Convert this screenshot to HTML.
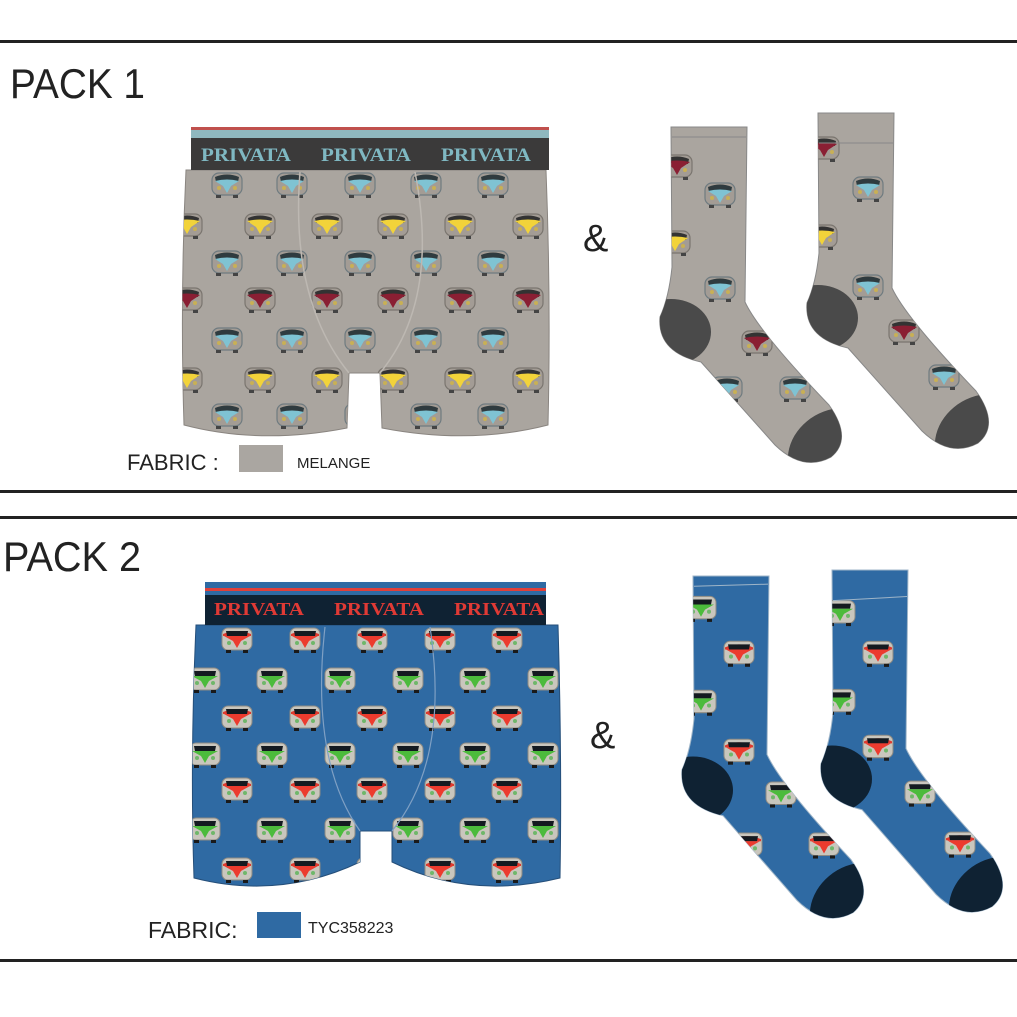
<!DOCTYPE html>
<html><head><meta charset="utf-8"><style>
html,body{margin:0;padding:0;background:#fff;}
svg{display:block;}
text{font-family:"Liberation Sans",sans-serif;}
.serif text{font-family:"Liberation Serif",serif;font-weight:bold;}
</style></head><body>
<svg width="1017" height="1017" viewBox="0 0 1017 1017" xmlns="http://www.w3.org/2000/svg">
<defs>
<symbol id="v1b" viewBox="0 0 32 28"><rect x="1" y="2" width="30" height="22" rx="7" fill="#a39c95" stroke="#6f7b80" stroke-width="1.2"/><path d="M4 6 Q16 1 28 6 L27 11 Q16 8 5 11Z" fill="#2f3b3f"/><path d="M4 10 Q16 7 28 10 L20 15 L16 22 L12 15Z" fill="#7fc3d3"/><circle cx="8" cy="17" r="2" fill="#c8b055"/><circle cx="24" cy="17" r="2" fill="#c8b055"/><rect x="5" y="24" width="5" height="3" fill="#444"/><rect x="22" y="24" width="5" height="3" fill="#444"/></symbol>
<symbol id="v1y" viewBox="0 0 32 28"><rect x="1" y="2" width="30" height="22" rx="7" fill="#a39c95" stroke="#7a756f" stroke-width="1.2"/><path d="M4 6 Q16 1 28 6 L27 11 Q16 8 5 11Z" fill="#333"/><path d="M3 9 Q16 6 29 9 L20 15 L16 22 L12 15Z" fill="#f2d33a"/><circle cx="8" cy="17" r="2" fill="#c8b055"/><circle cx="24" cy="17" r="2" fill="#c8b055"/><rect x="5" y="24" width="5" height="3" fill="#444"/><rect x="22" y="24" width="5" height="3" fill="#444"/></symbol>
<symbol id="v1m" viewBox="0 0 32 28"><rect x="1" y="2" width="30" height="22" rx="7" fill="#a39c95" stroke="#7a756f" stroke-width="1.2"/><path d="M4 6 Q16 1 28 6 L27 11 Q16 8 5 11Z" fill="#333"/><path d="M3 9 Q16 6 29 9 L20 15 L16 22 L12 15Z" fill="#8a1f33"/><circle cx="8" cy="17" r="2" fill="#c8b055"/><circle cx="24" cy="17" r="2" fill="#c8b055"/><rect x="5" y="24" width="5" height="3" fill="#444"/><rect x="22" y="24" width="5" height="3" fill="#444"/></symbol>
<symbol id="v2r" viewBox="0 0 32 28"><rect x="1" y="2" width="30" height="22" rx="6" fill="#c9c6bd" stroke="#8d8a83" stroke-width="1"/><path d="M2 8 Q16 2 30 8 L30 10 L2 10Z" fill="#e03a2e"/><path d="M5 5 L27 5 L26 10 L6 10Z" fill="#141a20"/><path d="M3 10 L29 10 L20 15 L16 22 L12 15Z" fill="#ec3b2e"/><circle cx="8" cy="17" r="2" fill="#6fb76a"/><circle cx="24" cy="17" r="2" fill="#6fb76a"/><rect x="5" y="24" width="5" height="3" fill="#1a1a1a"/><rect x="22" y="24" width="5" height="3" fill="#1a1a1a"/></symbol>
<symbol id="v2g" viewBox="0 0 32 28"><rect x="1" y="2" width="30" height="22" rx="6" fill="#c9c6bd" stroke="#8d8a83" stroke-width="1"/><path d="M5 5 L27 5 L26 10 L6 10Z" fill="#141a20"/><path d="M3 10 L29 10 L20 15 L16 22 L12 15Z" fill="#4cbb3c"/><circle cx="8" cy="17" r="2" fill="#6fb76a"/><circle cx="24" cy="17" r="2" fill="#6fb76a"/><rect x="5" y="24" width="5" height="3" fill="#1a1a1a"/><rect x="22" y="24" width="5" height="3" fill="#1a1a1a"/></symbol>
<path id="sock" d="M0 0 L76 0 L74 175 Q88 205 158 278 Q182 312 160 330 Q132 345 104 318 L30 235 Q-14 225 -11 190 Q-2 170 1 140 Z"/>
<clipPath id="sockclip"><use href="#sock"/></clipPath>
<clipPath id="b1"><path d="M186 170 L546 170 Q551 300 548 425 Q470 445 382 428 L380 373 L349 373 L347 428 Q260 445 184 425 Q180 300 186 170Z"/></clipPath>
<clipPath id="b2"><path d="M196 625 L558 625 Q562 760 560 878 Q470 900 392 862 L392 831 L360 831 L360 862 Q280 900 194 878 Q190 760 196 625Z"/></clipPath>
</defs>

<rect x="0" y="40" width="1017" height="3" fill="#222"/>
<rect x="0" y="490" width="1017" height="3" fill="#222"/>
<rect x="0" y="516" width="1017" height="3" fill="#222"/>
<rect x="0" y="959" width="1017" height="3" fill="#222"/>

<text x="10" y="98" font-size="42" fill="#222" textLength="135" lengthAdjust="spacingAndGlyphs">PACK 1</text>
<text x="3" y="571" font-size="42" fill="#222" textLength="138" lengthAdjust="spacingAndGlyphs">PACK 2</text>
<text x="583" y="251" font-size="38" fill="#222">&amp;</text>
<text x="590" y="748" font-size="38" fill="#222">&amp;</text>

<path d="M186 170 L546 170 Q551 300 548 425 Q470 445 382 428 L380 373 L349 373 L347 428 Q260 445 184 425 Q180 300 186 170Z" fill="#aaa59f" stroke="#8a8580"/>
<g clip-path="url(#b1)">
<g id="r1b">
<use href="#v1b" x="211" y="171" width="32" height="28"/><use href="#v1b" x="276" y="171" width="32" height="28"/><use href="#v1b" x="344" y="171" width="32" height="28"/><use href="#v1b" x="410" y="171" width="32" height="28"/><use href="#v1b" x="477" y="171" width="32" height="28"/>
</g>
<use href="#r1b" y="78"/><use href="#r1b" y="155"/><use href="#r1b" y="231"/>
<g id="r1y">
<use href="#v1y" x="171" y="212" width="32" height="28"/><use href="#v1y" x="244" y="212" width="32" height="28"/><use href="#v1y" x="311" y="212" width="32" height="28"/><use href="#v1y" x="377" y="212" width="32" height="28"/><use href="#v1y" x="444" y="212" width="32" height="28"/><use href="#v1y" x="512" y="212" width="32" height="28"/>
</g>
<use href="#r1y" y="154"/>
<use href="#v1m" x="171" y="286" width="32" height="28"/><use href="#v1m" x="244" y="286" width="32" height="28"/><use href="#v1m" x="311" y="286" width="32" height="28"/><use href="#v1m" x="377" y="286" width="32" height="28"/><use href="#v1m" x="444" y="286" width="32" height="28"/><use href="#v1m" x="512" y="286" width="32" height="28"/>
<path d="M300 172 Q290 300 349 373 M415 172 Q440 300 380 373" fill="none" stroke="#bdb8b2" stroke-width="1.5"/>
</g>
<rect x="191" y="127" width="358" height="3" fill="#c0504d"/>
<rect x="191" y="130" width="358" height="8" fill="#8fb8bf"/>
<rect x="191" y="138" width="358" height="32" fill="#3b3a3a"/>
<g class="serif" style="font-family:'Liberation Serif',serif;font-weight:bold" font-size="19" fill="#7fb8c2">
<text x="201" y="161" textLength="90" lengthAdjust="spacingAndGlyphs">PRIVATA</text><text x="321" y="161" textLength="90" lengthAdjust="spacingAndGlyphs">PRIVATA</text><text x="441" y="161" textLength="90" lengthAdjust="spacingAndGlyphs">PRIVATA</text>
</g>
<text x="127" y="470" font-size="22" fill="#222">FABRIC :</text>
<rect x="239" y="445" width="44" height="27" fill="#aaa6a1"/>
<text x="297" y="468" font-size="15" fill="#222">MELANGE</text>

<g transform="translate(671,127)">
<use href="#sock" fill="#aaa59f" stroke="#888"/>
<g clip-path="url(#sockclip)">
<ellipse cx="0" cy="205" rx="40" ry="33" fill="#4a4a4a"/>
<ellipse cx="165" cy="325" rx="50" ry="42" transform="rotate(-30 165 325)" fill="#4a4a4a"/>
<use href="#v1m" x="-10" y="26" width="32" height="28"/>
<use href="#v1b" x="33" y="54" width="32" height="28"/>
<use href="#v1y" x="-12" y="102" width="32" height="28"/>
<use href="#v1b" x="33" y="148" width="32" height="28"/>
<use href="#v1m" x="70" y="202" width="32" height="28"/>
<use href="#v1b" x="108" y="248" width="32" height="28"/>
<use href="#v1b" x="40" y="248" width="32" height="28"/>
</g>
<path d="M1 10 L75 10" stroke="#888" fill="none"/>
</g>
<g transform="translate(818,113)">
<use href="#sock" fill="#aaa59f" stroke="#888"/>
<g clip-path="url(#sockclip)">
<ellipse cx="0" cy="205" rx="40" ry="33" fill="#4a4a4a"/>
<ellipse cx="165" cy="325" rx="50" ry="42" transform="rotate(-30 165 325)" fill="#4a4a4a"/>
<use href="#v1m" x="-10" y="22" width="32" height="28"/>
<use href="#v1b" x="34" y="62" width="32" height="28"/>
<use href="#v1y" x="-12" y="110" width="32" height="28"/>
<use href="#v1b" x="34" y="160" width="32" height="28"/>
<use href="#v1m" x="70" y="205" width="32" height="28"/>
<use href="#v1b" x="110" y="250" width="32" height="28"/>
</g>
<path d="M1 30 L75 30" stroke="#888" fill="none"/>
</g>

<path d="M196 625 L558 625 Q562 760 560 878 Q470 900 392 862 L392 831 L360 831 L360 862 Q280 900 194 878 Q190 760 196 625Z" fill="#2f6aa3" stroke="#254f7a"/>
<g clip-path="url(#b2)">
<g id="r2r">
<use href="#v2r" x="221" y="626" width="32" height="28"/><use href="#v2r" x="289" y="626" width="32" height="28"/><use href="#v2r" x="356" y="626" width="32" height="28"/><use href="#v2r" x="424" y="626" width="32" height="28"/><use href="#v2r" x="491" y="626" width="32" height="28"/>
</g>
<use href="#r2r" y="78"/><use href="#r2r" y="150"/><use href="#r2r" y="230"/>
<g id="r2g">
<use href="#v2g" x="189" y="666" width="32" height="28"/><use href="#v2g" x="256" y="666" width="32" height="28"/><use href="#v2g" x="324" y="666" width="32" height="28"/><use href="#v2g" x="392" y="666" width="32" height="28"/><use href="#v2g" x="459" y="666" width="32" height="28"/><use href="#v2g" x="527" y="666" width="32" height="28"/>
</g>
<use href="#r2g" y="75"/><use href="#r2g" y="150"/>
<path d="M325 627 Q310 760 360 831 M430 627 Q450 760 392 831" fill="none" stroke="#7fa0c4" stroke-width="1.2"/>
</g>
<rect x="205" y="582" width="341" height="13" fill="#2f6aa3"/>
<rect x="205" y="588" width="341" height="3" fill="#e0403a"/>
<rect x="205" y="595" width="341" height="30" fill="#0f2233"/>
<g class="serif" style="font-family:'Liberation Serif',serif;font-weight:bold" font-size="18" fill="#e03a35">
<text x="214" y="615" textLength="90" lengthAdjust="spacingAndGlyphs">PRIVATA</text><text x="334" y="615" textLength="90" lengthAdjust="spacingAndGlyphs">PRIVATA</text><text x="454" y="615" textLength="90" lengthAdjust="spacingAndGlyphs">PRIVATA</text>
</g>
<text x="148" y="938" font-size="23" fill="#222">FABRIC:</text>
<rect x="257" y="912" width="44" height="26" fill="#2f6aa3"/>
<text x="308" y="933" font-size="16" fill="#222">TYC358223</text>

<g transform="translate(693,576) scale(1,1.02)">
<use href="#sock" fill="#2f6aa3" stroke="#9fb5c8"/>
<g clip-path="url(#sockclip)">
<ellipse cx="0" cy="210" rx="40" ry="33" fill="#0f2233"/>
<ellipse cx="165" cy="325" rx="50" ry="42" transform="rotate(-30 165 325)" fill="#0f2233"/>
<use href="#v2g" x="-8" y="18" width="32" height="28"/>
<use href="#v2r" x="30" y="62" width="32" height="28"/>
<use href="#v2g" x="-8" y="110" width="32" height="28"/>
<use href="#v2r" x="30" y="158" width="32" height="28"/>
<use href="#v2g" x="72" y="200" width="32" height="28"/>
<use href="#v2r" x="115" y="250" width="32" height="28"/>
<use href="#v2r" x="38" y="250" width="32" height="28"/>
</g>
<path d="M1 10 L75 8" stroke="#9fb5c8" fill="none"/>
</g>
<g transform="translate(832,570) scale(1,1.02)">
<use href="#sock" fill="#2f6aa3" stroke="#9fb5c8"/>
<g clip-path="url(#sockclip)">
<ellipse cx="0" cy="205" rx="40" ry="33" fill="#0f2233"/>
<ellipse cx="165" cy="325" rx="50" ry="42" transform="rotate(-30 165 325)" fill="#0f2233"/>
<use href="#v2g" x="-8" y="28" width="32" height="28"/>
<use href="#v2r" x="30" y="68" width="32" height="28"/>
<use href="#v2g" x="-8" y="115" width="32" height="28"/>
<use href="#v2r" x="30" y="160" width="32" height="28"/>
<use href="#v2g" x="72" y="205" width="32" height="28"/>
<use href="#v2r" x="112" y="255" width="32" height="28"/>
</g>
<path d="M1 30 L75 26" stroke="#9fb5c8" fill="none"/>
</g>
</svg>
</body></html>
